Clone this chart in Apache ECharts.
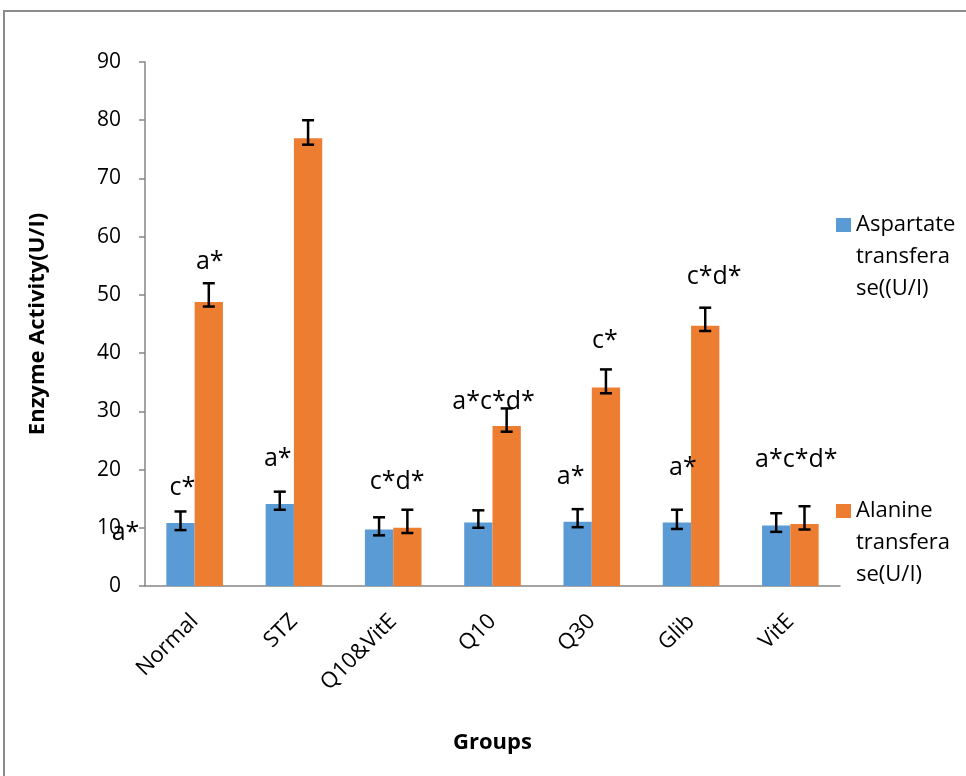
<!DOCTYPE html>
<html>
<head>
<meta charset="utf-8">
<script src="https://cdn.jsdelivr.net/npm/echarts@6/dist/echarts.min.js"></script>
<style>
  html, body { margin: 0; padding: 0; background: #fff; }
  #chart { width: 966px; height: 776px; }
</style>
</head>
<body>
<div id="chart"></div>
<script>
// Groups and enzyme activities (U/I)
const groups = ['Normal', 'STZ', 'Q10&VitE', 'Q10', 'Q30', 'Glib', 'VitE'];

const astValues   = [10.8, 14.1, 9.7, 10.9, 11.05, 10.9, 10.4];
const astErrUp    = [2.0, 2.1, 2.1, 2.1, 2.15, 2.2, 2.1];
const astErrDown  = [1.2, 1.0, 1.0, 0.9, 0.95, 1.1, 1.1];

const altValues   = [48.8, 76.9, 10.0, 27.5, 34.1, 44.7, 10.65];
const altErrUp    = [3.2, 3.1, 3.1, 3.0, 3.1, 3.1, 3.05];
const altErrDown  = [0.8, 1.1, 0.9, 1.0, 1.0, 0.9, 0.95];

// Significance letters
const astNotes   = ['c*', 'a*', '', '', 'a*', 'a*', ''];
const altNotes   = ['a*', '', '', '', 'c*', 'c*d*', ''];
const groupNotes = ['', '', 'c*d*', 'a*c*d*', '', '', 'a*c*d*'];
const sideNotes  = ['a*', '', '', '', '', '', ''];

const yTicks = { min: 0, max: 90, interval: 10 };

const seriesNames = ['Aspartate\ntransfera\nse((U/I)', 'Alanine\ntransfera\nse(U/I)'];

// Pixel nudges for the letters, relative to their anchor
const nudgeAst   = [[2, -24], [-2, -33], null, null, [-7, -32], [6, -42], null];
const nudgeAlt   = [[1, -21], null, null, null, [-1, -29], [9, -31], null];
const nudgeGroup = [null, null, [4, -28], [1, -7], null, null, [6, -46]];
const nudgeSide  = [[-55, 10], null, null, null, null, null, null];

const CAT_GAP = 0.43;
const NOTE_FONT = '25px "Open Sans"';

const chart = echarts.init(document.getElementById('chart'));

function seg(x1, y1, x2, y2) {
  return {
    type: 'line',
    shape: { x1, y1, x2, y2 },
    style: { stroke: '#000', lineWidth: 2.5 }
  };
}
function note(text, x, y) {
  return {
    type: 'text',
    style: { text, x, y, align: 'center', verticalAlign: 'middle', font: NOTE_FONT, fill: '#000' }
  };
}

function renderOverlay(params, api) {
  const i = api.value(0);
  const center = api.coord([i, 0]);
  const band = api.size([1, 0])[0];
  const barW = band * (1 - CAT_GAP) / 2;
  const xs = [center[0] - barW / 2, center[0] + barW / 2];
  const children = [];
  const sets = [
    [astValues, astErrUp, astErrDown],
    [altValues, altErrUp, altErrDown]
  ];
  const tops = [];
  sets.forEach(([v, up, dn], s) => {
    const yTop = api.coord([i, v[i] + up[i]])[1];
    const yBot = api.coord([i, v[i] - dn[i]])[1];
    const x = xs[s];
    const cap = 6;
    tops.push(yTop);
    children.push(seg(x, yTop, x, yBot));
    children.push(seg(x - cap, yTop, x + cap, yTop));
    children.push(seg(x - cap, yBot, x + cap, yBot));
  });
  if (astNotes[i] && nudgeAst[i]) {
    children.push(note(astNotes[i], xs[0] + nudgeAst[i][0], tops[0] + nudgeAst[i][1]));
  }
  if (altNotes[i] && nudgeAlt[i]) {
    children.push(note(altNotes[i], xs[1] + nudgeAlt[i][0], tops[1] + nudgeAlt[i][1]));
  }
  if (groupNotes[i] && nudgeGroup[i]) {
    const yTop = Math.min(tops[0], tops[1]);
    children.push(note(groupNotes[i], center[0] + nudgeGroup[i][0], yTop + nudgeGroup[i][1]));
  }
  if (sideNotes[i] && nudgeSide[i]) {
    const yBar = api.coord([i, astValues[i]])[1];
    children.push(note(sideNotes[i], xs[0] + nudgeSide[i][0], yBar + nudgeSide[i][1]));
  }
  return { type: 'group', children };
}

// Legend icon: a square sitting beside the first line of a three-line label
const legendIcon = 'path://M0,0h0.01v0.01h-0.01Z M0,9h15v14h-15Z M14.99,96h0.01v-0.01h-0.01Z';

const option = {
  animation: false,
  backgroundColor: '#fff',
  graphic: [{
    type: 'rect',
    shape: { x: 4, y: 11, width: 1200, height: 1000 },
    style: { fill: 'none', stroke: '#8c8c8c', lineWidth: 2 },
    silent: true
  }],
  grid: { left: 145, right: 126, top: 62, bottom: 190 },
  legend: {
    orient: 'vertical',
    left: 836,
    top: 209,
    padding: 0,
    itemWidth: 15,
    itemHeight: 96,
    itemGap: 190,
    icon: legendIcon,
    textStyle: { fontFamily: 'Open Sans', fontSize: 22, lineHeight: 32, color: '#000' },
    data: seriesNames
  },
  xAxis: {
    type: 'category',
    data: groups,
    name: 'Groups',
    nameLocation: 'middle',
    nameGap: 146,
    nameTextStyle: { fontFamily: 'Open Sans', fontWeight: 'bold', fontSize: 22, color: '#000' },
    axisLine: { lineStyle: { color: '#868686', width: 1.5 } },
    axisTick: { length: 7, lineStyle: { color: '#868686', width: 1.5 } },
    axisLabel: {
      rotate: 45,
      margin: 32,
      interval: 0,
      fontFamily: 'Open Sans',
      fontSize: 22,
      color: '#000'
    }
  },
  yAxis: {
    type: 'value',
    min: yTicks.min,
    max: yTicks.max,
    interval: yTicks.interval,
    name: 'Enzyme Activity(U/I)',
    nameLocation: 'middle',
    nameGap: 96,
    nameRotate: 90,
    nameTextStyle: { fontFamily: 'Open Sans', fontWeight: 'bold', fontSize: 22, color: '#000' },
    axisLine: { show: true, lineStyle: { color: '#868686', width: 1.5 } },
    axisTick: { show: true, length: 6, lineStyle: { color: '#868686', width: 1.5 } },
    splitLine: { show: false },
    axisLabel: { fontFamily: 'Open Sans', fontSize: 21, color: '#000', margin: 24 }
  },
  series: [
    {
      name: seriesNames[0],
      type: 'bar',
      data: astValues,
      barGap: '0%',
      barCategoryGap: (CAT_GAP * 100) + '%',
      itemStyle: { color: '#5B9BD5' }
    },
    {
      name: seriesNames[1],
      type: 'bar',
      data: altValues,
      barGap: '0%',
      barCategoryGap: (CAT_GAP * 100) + '%',
      itemStyle: { color: '#ED7D31' }
    },
    {
      type: 'custom',
      data: groups.map((g, i) => [i, 0]),
      encode: { x: 0, y: 1 },
      renderItem: renderOverlay,
      z: 10,
      silent: true
    }
  ]
};

chart.setOption(option);
</script>
</body>
</html>
